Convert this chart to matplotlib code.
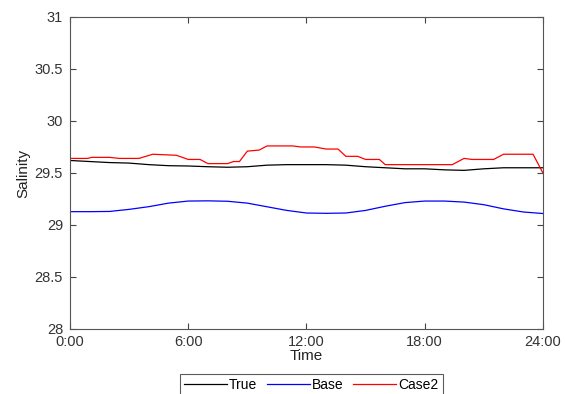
import numpy as np
import matplotlib.pyplot as plt

plt.rcParams['font.family'] = ['Liberation Sans', 'DejaVu Sans']

# hourly salinity series (hours 0..24)
hours = np.arange(0, 25)
true_sal = [29.62, 29.61, 29.60, 29.595, 29.58, 29.57, 29.567, 29.56, 29.555, 29.56,
            29.575, 29.58, 29.58, 29.58, 29.575, 29.56, 29.55, 29.54, 29.54, 29.53,
            29.525, 29.54, 29.55, 29.55, 29.55]
base_sal = [29.128, 29.128, 29.13, 29.15, 29.176, 29.21, 29.23, 29.232, 29.228, 29.21,
            29.175, 29.14, 29.115, 29.112, 29.115, 29.14, 29.18, 29.215, 29.23, 29.23,
            29.22, 29.195, 29.155, 29.125, 29.11]

# Case2 is stepped, sampled on irregular times
case2_t = [0, 0.9, 1.1, 2.0, 2.5, 3.5, 4.2, 5.4, 6.0, 6.6, 7.0, 8.0, 8.3, 8.6, 9.0, 9.6,
           10.0, 11.3, 11.7, 12.4, 13.0, 13.6, 14.0, 14.6, 15.0, 15.7, 16.0, 19.4,
           20.0, 20.4, 21.5, 22.0, 23.5, 24.0]
case2_sal = [29.64, 29.64, 29.65, 29.65, 29.64, 29.64, 29.68, 29.67, 29.63, 29.63, 29.59,
             29.59, 29.61, 29.61, 29.71, 29.72, 29.76, 29.76, 29.75, 29.75, 29.73, 29.73,
             29.66, 29.66, 29.63, 29.63, 29.58, 29.58, 29.64, 29.63, 29.63, 29.68,
             29.68, 29.50]

xtick_pos = [0, 6, 12, 18, 24]
xtick_lab = ['0:00', '6:00', '12:00', '18:00', '24:00']
ytick_pos = [28, 28.5, 29, 29.5, 30, 30.5, 31]
ytick_lab = ['28', '28.5', '29', '29.5', '30', '30.5', '31']

fig = plt.figure(figsize=(5.65, 3.94), dpi=100)
ax = fig.add_axes([0.1239, 0.165, 0.837, 0.792])

ax.plot(hours, true_sal, color='black', lw=0.9, label='True')
ax.plot(hours, base_sal, color='blue', lw=0.9, label='Base')
ax.plot(case2_t, case2_sal, color='red', lw=0.9, label='Case2')

ax.set_xlim(0, 24)
ax.set_ylim(28, 31)
ax.set_xticks(xtick_pos)
ax.set_xticklabels(xtick_lab)
ax.set_yticks(ytick_pos)
ax.set_yticklabels(ytick_lab)
ax.tick_params(direction='in', top=True, right=True, labelsize=10.5,
               length=4, width=0.8, color='#444444', labelcolor='#333333')
ax.tick_params(axis='x', pad=4.5)
ax.tick_params(axis='y', pad=5)
for s in ax.spines.values():
    s.set_color('#555555')
    s.set_linewidth(0.8)

ax.set_xlabel('Time', fontsize=11, color='#222222', labelpad=0)
ax.set_ylabel('Salinity', fontsize=11, color='#222222', labelpad=3)

leg = fig.legend(loc='upper center', bbox_to_anchor=(0.551, 0.051), ncol=3,
                 fontsize=10, frameon=True, fancybox=False, handlelength=3.1,
                 columnspacing=0.7, handletextpad=0.15, borderpad=0.3,
                 borderaxespad=0)
leg.get_frame().set_edgecolor('#333333')
leg.get_frame().set_linewidth(0.8)

fig.savefig('out.png', dpi=100)
